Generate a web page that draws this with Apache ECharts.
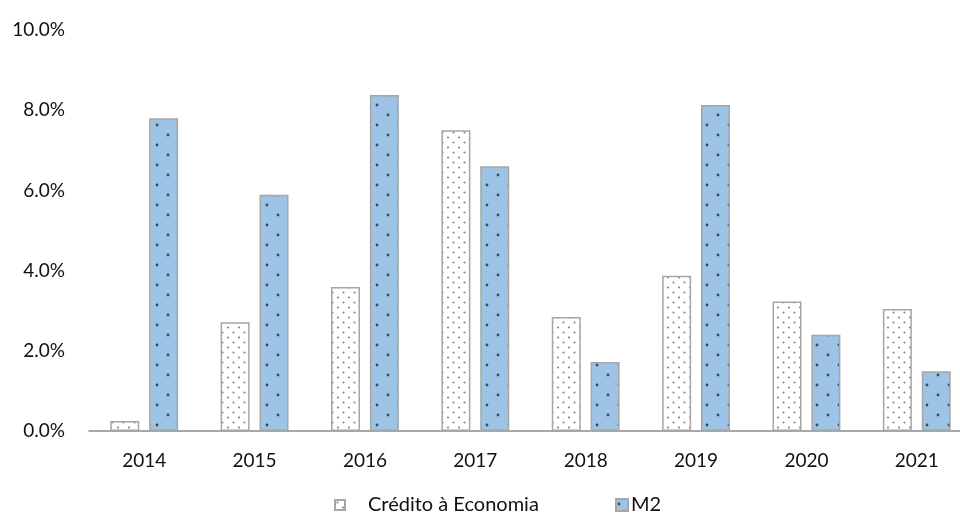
<!DOCTYPE html>
<html>
<head>
<meta charset="utf-8">
<script src="https://cdn.jsdelivr.net/npm/echarts@6/dist/echarts.min.js"></script>
<style>
  html, body { margin: 0; padding: 0; background: #fff; overflow: hidden; }
  #wrap { width: 960px; height: 515px; overflow: hidden; }
  /* plot area runs slightly past the right edge of the view */
  #chart { width: 972px; height: 515px; }
</style>
</head>
<body>
<div id="wrap"><div id="chart"></div></div>
<script>
// Annual growth rates, in percent
const years = ['2014', '2015', '2016', '2017', '2018', '2019', '2020', '2021'];
const creditoEconomia = [0.25, 2.71, 3.59, 7.50, 2.84, 3.87, 3.23, 3.04];
const m2 = [7.80, 5.89, 8.38, 6.60, 1.72, 8.13, 2.40, 1.49];
const yTicks = [0, 2, 4, 6, 8, 10];

const FONT = 'Lato';
const TEXT = '#111111';
const EDGE = '#a6a6a6';

// Small repeating dot tiles used as bar fills
function dotTile(w, h, bg, dots, dotColor, r) {
  const c = document.createElement('canvas');
  c.width = w; c.height = h;
  const g = c.getContext('2d');
  g.fillStyle = bg;
  g.fillRect(0, 0, w, h);
  g.fillStyle = dotColor;
  dots.forEach(([x, y]) => {
    g.beginPath();
    g.arc(x, y, r, 0, Math.PI * 2);
    g.fill();
  });
  return { image: c, repeat: 'repeat' };
}

const creditoFill = dotTile(11, 10, '#ffffff', [[2.5, 2.5], [8, 7.5]], '#8a8a8a', 1.1);
const m2Fill = dotTile(22, 20, '#9dc3e6', [[3, 5], [14, 15]], '#404a55', 1.4);

const chart = echarts.init(document.getElementById('chart'), null, { renderer: 'canvas' });

chart.setOption({
  animation: false,
  backgroundColor: '#ffffff',
  textStyle: { fontFamily: FONT, color: TEXT },
  grid: { left: 89, right: 0, top: 30, bottom: 84, containLabel: false },
  legend: [
    {
      data: [{ name: 'Crédito à Economia', icon: 'rect' }],
      left: 334, top: 495, padding: 0,
      itemWidth: 10, itemHeight: 10,
      textStyle: { fontFamily: FONT, fontSize: 20, color: TEXT, padding: [0, 0, 0, 18] }
    },
    {
      data: [{ name: 'M2', icon: 'rect' }],
      left: 615, top: 495, padding: 0,
      itemWidth: 12, itemHeight: 12,
      textStyle: { fontFamily: FONT, fontSize: 20, color: TEXT, padding: [0, 0, 0, -2] }
    }
  ],
  xAxis: {
    type: 'category',
    data: years,
    axisLine: { show: true, lineStyle: { color: '#8c8c8c', width: 1.5 } },
    axisTick: { show: false },
    axisLabel: { fontFamily: FONT, fontSize: 19, color: TEXT, margin: 20 },
    splitLine: { show: false }
  },
  yAxis: {
    type: 'value',
    min: yTicks[0],
    max: yTicks[yTicks.length - 1],
    interval: yTicks[1] - yTicks[0],
    axisLine: { show: false },
    axisTick: { show: false },
    splitLine: { show: false },
    axisLabel: {
      fontFamily: FONT, fontSize: 19, color: TEXT, margin: 24,
      formatter: v => v.toFixed(1) + '%'
    }
  },
  series: [
    {
      name: 'Crédito à Economia',
      type: 'bar',
      data: creditoEconomia,
      barWidth: 29,
      barGap: '34%',
      itemStyle: { color: creditoFill, borderColor: EDGE, borderWidth: 1.5 }
    },
    {
      name: 'M2',
      type: 'bar',
      data: m2,
      barWidth: 29,
      barGap: '34%',
      itemStyle: { color: m2Fill, borderColor: EDGE, borderWidth: 1.5 }
    }
  ]
});
</script>
</body>
</html>
